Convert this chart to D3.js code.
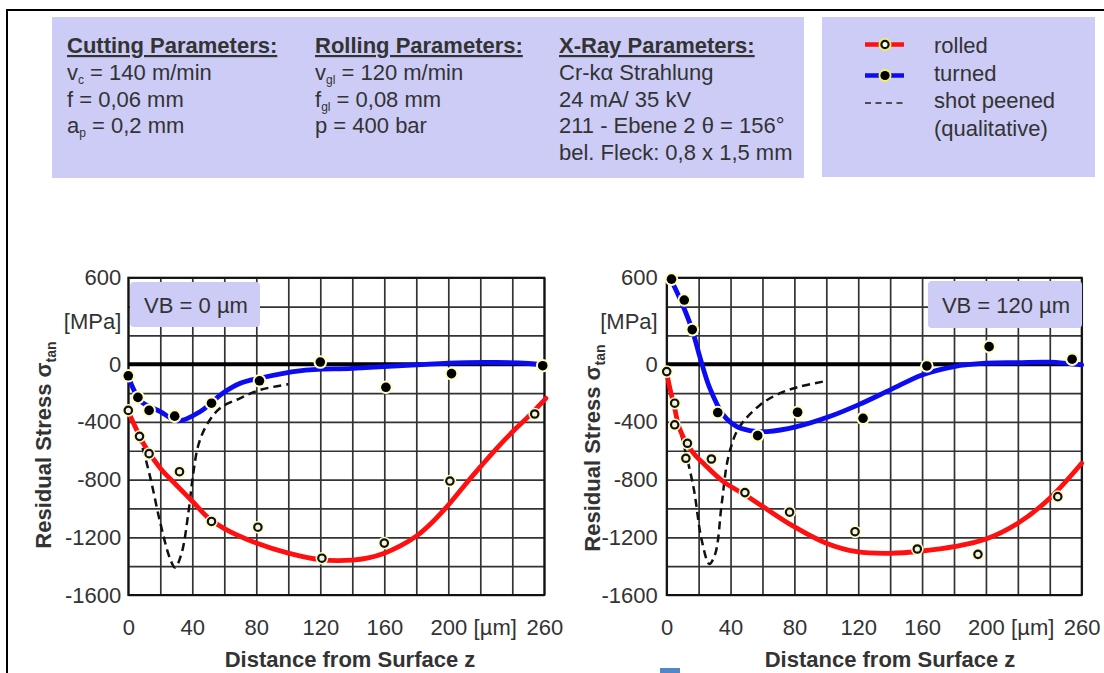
<!DOCTYPE html>
<html><head><meta charset="utf-8">
<script src="https://cdn.jsdelivr.net/npm/d3@7"></script>
<style>
body{margin:0;background:#fff}
svg{display:block}
text{font-family:"Liberation Sans",Arial,Helvetica,sans-serif}
</style>
</head><body>
<svg id="chart" width="1104" height="673"></svg>
<script>
// ---------- DATA ----------
const zTicks = [0, 40, 80, 120, 160, 200, 229, 260];
const zTickLabels = ["0", "40", "80", "120", "160", "200", "[µm]", "260"];
const sTicks = [600, 300, 0, -400, -800, -1200, -1600];
const sTickLabels = ["600", "[MPa]", "0", "-400", "-800", "-1200", "-1600"];
const zGrid = [0,20,40,60,80,100,120,140,160,180,200,220,240,260];
const sGrid = [600,400,200,0,-200,-400,-600,-800,-1000,-1200,-1400,-1600];

// VB = 0 µm (left)
const leftRolledZ = [0, 7, 13, 32, 52, 81, 121, 160, 201, 254];
const leftRolledS = [-320, -500, -620, -745, -1090, -1130, -1345, -1240, -810, -345];
const leftTurnedZ = [0, 6, 13, 29, 52, 82, 120, 161, 202, 259];
const leftTurnedS = [-80, -230, -320, -360, -270, -115, 15, -160, -65, -10];
const leftRolledFitZ = [0, 5, 10, 20, 30, 40, 50, 60, 80, 100, 120, 140, 150, 160, 170, 180, 190, 200, 210, 220, 230, 240, 250, 261];
const leftRolledFitS = [-330, -450, -560, -721, -837, -950, -1065, -1140, -1240, -1310, -1355, -1358, -1343, -1310, -1260, -1192, -1095, -976, -842, -712, -586, -470, -363, -236];
const leftTurnedFitZ = [0, 2, 8, 20, 31, 45, 59, 70, 82, 107, 140, 180, 200, 230, 250, 259];
const leftTurnedFitS = [-80, -143, -259, -328, -393, -328, -201, -132, -97, -46, -28, -5, 8, 12, 5, -5];
const leftShotZ = [0, 7.3, 13.6, 19.8, 26, 29.2, 33.3, 37.5, 40.6, 43.8, 49, 57.3, 69.8, 82.3, 100];
const leftShotS = [-330, -524, -779, -1091, -1345, -1410, -1311, -1033, -756, -560, -421, -305, -236, -178, -139];

// VB = 120 µm (right)
const rightRolledZ = [0, 5, 5, 13, 12, 28, 49, 77, 118, 157, 195, 245];
const rightRolledS = [-51, -270, -420, -548, -652, -657, -890, -1026, -1161, -1281, -1318, -918];
const rightTurnedZ = [3, 11, 16, 32, 57, 82, 123, 163, 202, 254];
const rightTurnedS = [590, 445, 240, -335, -495, -333, -375, -12, 122, 35];
const rightRolledFitZ = [0, 2, 5, 8, 16, 24, 35.5, 49, 58, 79, 100, 119, 140, 160, 180, 200, 220, 240, 260];
const rightRolledFitS = [-60, -166, -305, -444, -606, -698, -814, -905, -970, -1121, -1241, -1300, -1311, -1295, -1265, -1212, -1103, -929, -687];
const rightTurnedFitZ = [3, 10, 16, 21, 27, 35.5, 44, 52, 63, 81.5, 102, 120, 140, 160, 180, 200, 220, 240, 260];
const rightTurnedFitS = [580, 411, 238, 42, -166, -352, -433, -460, -467, -433, -363, -282, -178, -74, -16, 7, 11, 14, -5];
const rightShotZ = [0, 4, 8.4, 16.7, 21.9, 26.7, 30.5, 34.5, 38.6, 45, 58.5, 71, 83.5, 100];
const rightShotS = [-55, -250, -455, -848, -1218, -1385, -1311, -964, -645, -445, -282, -201, -155, -116];

const vbLabels = ["VB = 0 µm", "VB = 120 µm"];
const legendLabels = ["rolled", "turned", "shot peened", "(qualitative)"];
const yTitleMain = "Residual Stress σ";
const yTitleSub = "tan";
const xTitle = "Distance from Surface z";

// ---------- DRAW ----------
const svg = d3.select("#chart");
const C_RED = "#ff1010", C_BLUE = "#0c0cf2", C_TXT = "#333", C_BOX = "#ccccf6";
const HALO = "#fffcc4";

// outer frame
svg.append("path").attr("d", "M7,680 L7,10 L1110,10").attr("fill", "none").attr("stroke", "#000").attr("stroke-width", 2);

// header boxes
svg.append("rect").attr("x", 52).attr("y", 17).attr("width", 752).attr("height", 161).attr("fill", C_BOX);
svg.append("rect").attr("x", 822).attr("y", 17).attr("width", 273).attr("height", 160).attr("fill", C_BOX);

function addLine(g, x, y, parts, bold) {
  const t = g.append("text").attr("x", x).attr("y", y).attr("fill", C_TXT).attr("font-size", 22);
  if (bold) t.attr("font-weight", "bold").attr("text-decoration", "underline");
  let prevSub = false;
  parts.forEach(p => {
    if (typeof p === "string") {
      const s = t.append("tspan").text(p);
      if (prevSub) s.attr("dy", -4);
      prevSub = false;
    } else {
      t.append("tspan").attr("font-size", 12).attr("dy", 4).text(p.sub);
      prevSub = true;
    }
  });
  return t;
}
const hdr = svg.append("g");
const cols = [
  {x: 67, lines: [["Cutting Parameters:"], ["v", {sub: "c"}, " = 140 m/min"], ["f = 0,06 mm"], ["a", {sub: "p"}, " = 0,2 mm"]]},
  {x: 315, lines: [["Rolling Parameters:"], ["v", {sub: "gl"}, " = 120 m/min"], ["f", {sub: "gl"}, " = 0,08 mm"], ["p = 400 bar"]]},
  {x: 559, lines: [["X-Ray Parameters:"], ["Cr-kα Strahlung"], ["24 mA/ 35 kV"], ["211 - Ebene 2 θ = 156°"], ["bel. Fleck: 0,8 x 1,5 mm"]]}
];
const hdrBase = [53, 80, 106.5, 133, 159.5];
cols.forEach(c => c.lines.forEach((ln, i) => addLine(hdr, c.x, hdrBase[i], ln, i === 0)));

// legend
const lg = svg.append("g");
const legY = [44.5, 75.5, 103];
const legBase = [53, 80.5, 108, 135.5];
legendLabels.forEach((l, i) => lg.append("text").attr("x", 934).attr("y", legBase[i]).attr("font-size", 22).attr("fill", C_TXT).text(l));
[[C_RED, legY[0], "rolled"], [C_BLUE, legY[1], "turned"]].forEach(([col, yy, kind]) => {
  lg.append("line").attr("x1", 865).attr("x2", 904).attr("y1", yy).attr("y2", yy).attr("stroke", col).attr("stroke-width", 4.5);
  lg.append("circle").attr("cx", 885).attr("cy", yy).attr("r", 6.5).attr("fill", "#f4f060");
  if (kind === "rolled") lg.append("circle").attr("cx", 885).attr("cy", yy).attr("r", 3.6).attr("fill", "#fff").attr("stroke", "#111").attr("stroke-width", 2.2);
  else lg.append("circle").attr("cx", 885).attr("cy", yy).attr("r", 4.6).attr("fill", "#000");
});
lg.append("line").attr("x1", 865).attr("x2", 906).attr("y1", legY[2]).attr("y2", legY[2]).attr("stroke", "#222").attr("stroke-width", 1.6).attr("stroke-dasharray", "6,4.5");

// panels
const panels = [
  {x0: 128.3, x1: 544.3, pad: 7, titleX: 51, titleY: 445, xTitleX: 350, vb: {x: 130, y: 282, w: 130, h: 45},
   rolled: [leftRolledZ, leftRolledS], turned: [leftTurnedZ, leftTurnedS],
   rFit: [leftRolledFitZ, leftRolledFitS], tFit: [leftTurnedFitZ, leftTurnedFitS], shot: [leftShotZ, leftShotS], label: vbLabels[0]},
  {x0: 666.7, x1: 1081.7, pad: 9, titleX: 600, titleY: 448, xTitleX: 890, vb: {x: 928, y: 281, w: 154, h: 47},
   rolled: [rightRolledZ, rightRolledS], turned: [rightTurnedZ, rightTurnedS],
   rFit: [rightRolledFitZ, rightRolledFitS], tFit: [rightTurnedFitZ, rightTurnedFitS], shot: [rightShotZ, rightShotS], label: vbLabels[1]}
];
const Y0 = 277.7, Y1 = 595;
const zip = (a, b) => a.map((v, i) => [v, b[i]]);

panels.forEach(p => {
  const x = d3.scaleLinear().domain([0, 260]).range([p.x0, p.x1]);
  const y = d3.scaleLinear().domain([-1600, 600]).range([Y1, Y0]);
  const g = svg.append("g");

  // grid via axes
  const gx = g.append("g").attr("transform", `translate(0,${Y1})`)
    .call(d3.axisBottom(x).tickValues(zGrid).tickSize(-(Y1 - Y0)).tickFormat(""));
  const gy = g.append("g").attr("transform", `translate(${p.x0},0)`)
    .call(d3.axisLeft(y).tickValues(sGrid).tickSize(-(p.x1 - p.x0)).tickFormat(""));
  [gx, gy].forEach(a => {
    a.select(".domain").remove();
    a.selectAll("line").attr("stroke", "#333").attr("stroke-width", 1.7);
  });
  g.append("rect").attr("x", p.x0).attr("y", Y0).attr("width", p.x1 - p.x0).attr("height", Y1 - Y0)
    .attr("fill", "none").attr("stroke", "#111").attr("stroke-width", 2);
  g.append("line").attr("x1", p.x0).attr("x2", p.x1).attr("y1", y(0)).attr("y2", y(0)).attr("stroke", "#000").attr("stroke-width", 4);

  // tick labels via axes
  const ax = g.append("g").attr("transform", `translate(0,${Y1})`)
    .call(d3.axisBottom(x).tickValues(zTicks).tickSize(0).tickPadding(24).tickFormat((d, i) => zTickLabels[i]));
  const ay = g.append("g").attr("transform", `translate(${p.x0},0)`)
    .call(d3.axisLeft(y).tickValues(sTicks).tickSize(0).tickPadding(p.pad).tickFormat((d, i) => sTickLabels[i]));
  [ax, ay].forEach(a => {
    a.select(".domain").remove();
    a.selectAll("text").attr("font-size", 22).attr("fill", C_TXT).attr("font-family", '"Liberation Sans",Arial,sans-serif');
  });

  // VB label box
  g.append("rect").attr("x", p.vb.x).attr("y", p.vb.y).attr("width", p.vb.w).attr("height", p.vb.h).attr("rx", 4).attr("fill", C_BOX);
  g.append("text").attr("x", p.vb.x + p.vb.w / 2 + 1).attr("y", p.vb.y + p.vb.h / 2 + 8).attr("text-anchor", "middle")
    .attr("font-size", 22).attr("fill", C_TXT).text(p.label);

  // curves
  const line = d3.line().x(d => x(d[0])).y(d => y(d[1])).curve(d3.curveCatmullRom.alpha(0.5));
  g.append("path").attr("d", line(zip(...p.shot))).attr("fill", "none").attr("stroke", "#111").attr("stroke-width", 2.5).attr("stroke-dasharray", "8,5");
  g.append("path").attr("d", line(zip(...p.rFit))).attr("fill", "none").attr("stroke", C_RED).attr("stroke-width", 4.8).attr("stroke-linecap", "round");
  g.append("path").attr("d", line(zip(...p.tFit))).attr("fill", "none").attr("stroke", C_BLUE).attr("stroke-width", 4.8).attr("stroke-linecap", "round");

  // markers
  const rp = zip(...p.rolled), tp = zip(...p.turned);
  g.selectAll(null).data(rp).join("circle").attr("cx", d => x(d[0])).attr("cy", d => y(d[1])).attr("r", 6.3).attr("fill", HALO);
  g.selectAll(null).data(rp).join("circle").attr("cx", d => x(d[0])).attr("cy", d => y(d[1])).attr("r", 3.7)
    .attr("fill", "#f4f4e0").attr("stroke", "#111").attr("stroke-width", 2.2);
  g.selectAll(null).data(tp).join("circle").attr("cx", d => x(d[0])).attr("cy", d => y(d[1])).attr("r", 6.8).attr("fill", HALO);
  g.selectAll(null).data(tp).join("circle").attr("cx", d => x(d[0])).attr("cy", d => y(d[1])).attr("r", 4.8).attr("fill", "#000");

  // axis titles
  const yt = g.append("text").attr("transform", `translate(${p.titleX},${p.titleY}) rotate(-90)`).attr("text-anchor", "middle")
    .attr("font-size", 22).attr("font-weight", "bold").attr("fill", C_TXT);
  yt.append("tspan").text(yTitleMain);
  yt.append("tspan").attr("font-size", 14).attr("dy", 5).text(yTitleSub);
  g.append("text").attr("x", p.xTitleX).attr("y", 667).attr("text-anchor", "middle").attr("font-size", 22)
    .attr("font-weight", "bold").attr("fill", C_TXT).text(xTitle);
});

// small blue fragment at bottom edge
svg.append("rect").attr("x", 660).attr("y", 668).attr("width", 20).attr("height", 6).attr("fill", "#4f86c6");
</script>
</body></html>
